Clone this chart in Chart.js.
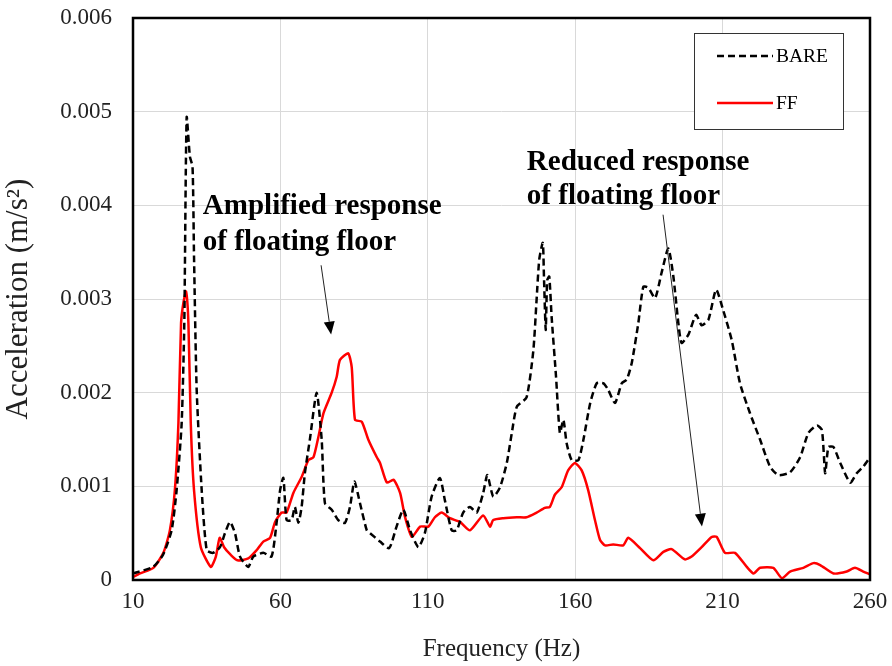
<!DOCTYPE html>
<html>
<head>
<meta charset="utf-8">
<script src="https://cdn.jsdelivr.net/npm/chart.js@4"></script>
<style>
  html, body { margin: 0; padding: 0; background: #fff; }
  #wrap { width: 892px; height: 666px; }
</style>
</head>
<body>
<div id="wrap"><canvas id="accChart" width="892" height="666"></canvas></div>
<script>
// frequency (Hz) / acceleration (m/s2)
const bareFreq = [10, 16.8, 20.2, 23.1, 24.8, 26.5, 27.4, 28.2, 29.3, 30.2, 30.7, 31.6, 33.3, 35.0, 37.2, 39.5, 41.2, 42.9, 44.6, 46.3,
  49.1, 50.8, 54.2, 57.0, 58.7, 59.9, 61.0, 62.1, 63.8, 64.9, 66.1, 67.2, 68.3, 70.0, 72.3, 74.0, 75.1, 77.4, 79.6, 81.9,
  83.6, 85.1, 87.0, 89.3, 90.4, 93.8, 96.9, 99.4, 101.7, 104, 106.8, 109, 111.3, 114.1, 115.8, 118.1, 119.8, 122, 124.3, 126.6,
  128.8, 130.2, 132.2, 134.5, 136.8, 138.5, 140.2, 143.5, 145.8, 146.9, 147.8, 149, 149.4, 150, 150.5, 151.2, 152, 153.5, 154.8, 156,
  157.1, 158.8, 161.1, 162.8, 165.1, 167.3, 169.6, 171.2, 173.5, 175.8, 177.5, 179.2, 181.4, 183.1, 184.8, 187.1, 189.3, 191.6, 193.3, 195,
  196.1, 198.4, 201, 202.9, 205.2, 207.8, 210.2, 213.1, 215.9, 219.3, 222.7, 226.1, 228.9, 232.9, 236.3, 239.1, 242, 243.7, 244.8, 245.9,
  247.6, 249.9, 253.3, 255.5, 257.7, 260];
const bareAcc = [0.00007, 0.00014, 0.00027, 0.00053, 0.00096, 0.00167, 0.00274, 0.00494, 0.00452, 0.00441, 0.00345, 0.00203, 0.00096, 0.00032, 0.00029, 0.00035, 0.0005, 0.00062, 0.0005, 0.00025,
  0.00014, 0.00025, 0.00029, 0.00025, 0.00061, 0.00096, 0.00109, 0.00064, 0.00064, 0.00078, 0.00061, 0.00078, 0.00114, 0.0015, 0.002, 0.0015, 0.00082, 0.00075, 0.00064, 0.00061,
  0.00078, 0.00105, 0.00082, 0.00053, 0.0005, 0.00041, 0.00034, 0.00057, 0.00075, 0.00053, 0.00035, 0.0005, 0.00089, 0.00109, 0.00085, 0.00053, 0.00053, 0.00072, 0.00078, 0.00072,
  0.00093, 0.00112, 0.00089, 0.00099, 0.00125, 0.00157, 0.00185, 0.00195, 0.00245, 0.00299, 0.00342, 0.0036, 0.00324, 0.00267, 0.0032, 0.00324, 0.00281, 0.00217, 0.00157, 0.00171,
  0.00146, 0.00128, 0.00128, 0.0015, 0.00189, 0.0021, 0.0021, 0.00203, 0.00189, 0.0021, 0.00214, 0.00232, 0.00274, 0.00313, 0.00312, 0.00301, 0.00328, 0.00354, 0.00324, 0.00274,
  0.00253, 0.00262, 0.00283, 0.00272, 0.00278, 0.0031, 0.00288, 0.00256, 0.0021, 0.00178, 0.0015, 0.00121, 0.00112, 0.00115, 0.00131, 0.00157, 0.00165, 0.0016, 0.00114, 0.00142,
  0.00142, 0.00125, 0.00104, 0.00114, 0.00121, 0.00131];

const ffFreq = [10, 12.4, 16.9, 20.3, 22.5, 24.2, 25.4, 26.3, 27.1, 28, 28.8, 29.6, 30.7, 33, 36.4, 38.1, 39.4, 40.9, 43.1, 45.4,
  49.1, 52, 54.2, 56.5, 58.2, 60.4, 62.1, 64.4, 67.2, 69.5, 71.2, 72.9, 74.6, 77.4, 79.1, 80.2, 83, 84.2, 85.3, 87.6,
  89.8, 92.7, 93.8, 96.1, 98.4, 100.6, 102.3, 104.6, 107.4, 110.2, 112.4, 114.7, 117.5, 120.9, 124.3, 128.8, 131.1, 132.2, 135.6, 140.2,
  143.5, 146.9, 149.7, 151.4, 153.1, 155.4, 157.6, 159.9, 162.2, 164.4, 166.7, 168.4, 170.1, 172.9, 176.3, 178, 182, 186.5, 189.9, 192.7,
  197.2, 199.5, 202.9, 206.3, 208, 210.8, 214.2, 218.2, 220.5, 222.7, 227.2, 230.1, 232.9, 237.4, 240.8, 243.1, 247.6, 252.1, 254.9, 257.7, 260];
const ffAcc = [0.00003, 0.00007, 0.00013, 0.00029, 0.00053, 0.00096, 0.00167, 0.00274, 0.00296, 0.00308, 0.00274, 0.00167, 0.00096, 0.00035, 0.00014, 0.00025, 0.00045, 0.00035, 0.00027, 0.00021,
  0.00023, 0.00032, 0.00041, 0.00045, 0.00062, 0.00072, 0.00072, 0.00093, 0.0011, 0.00128, 0.00131, 0.00153, 0.00178, 0.002, 0.00217, 0.00235, 0.00242, 0.00227, 0.00171, 0.00169,
  0.0015, 0.00131, 0.00125, 0.00104, 0.00107, 0.00093, 0.00067, 0.00046, 0.00057, 0.00057, 0.00067, 0.00072, 0.00066, 0.00062, 0.00053, 0.00069, 0.00057, 0.00064, 0.00066, 0.00067,
  0.00067, 0.00072, 0.00077, 0.00078, 0.00091, 0.00099, 0.00117, 0.00125, 0.00117, 0.00096, 0.00064, 0.00043, 0.00037, 0.00038, 0.00037, 0.00045, 0.00034, 0.00021, 0.0003, 0.00033,
  0.00022, 0.00025, 0.00035, 0.00046, 0.00046, 0.00029, 0.00029, 0.00014, 0.00007, 0.00013, 0.00013, 0.00002, 0.00009, 0.00013, 0.00018, 0.00016, 0.00007, 0.00009, 0.00013, 0.00009, 0.00006];

const seriesNames = ['BARE', 'FF'];
const xTicks = [10, 60, 110, 160, 210, 260];
const yTicks = [0, 0.001, 0.002, 0.003, 0.004, 0.005, 0.006];

// callouts, anchored in data units
const notes = [
  { lines: ['Amplified response', 'of floating floor'], x: 33.7, y: [0.00399, 0.0036], from: [73.8, 0.00336], to: [77.2, 0.00262] },
  { lines: ['Reduced response', 'of floating floor'], x: 143.6, y: [0.00446, 0.00409], from: [189.8, 0.0039], to: [203, 0.00057] }
];

const serif = '"Liberation Serif", "Times New Roman", serif';

function pairs(xs, ys) {
  return xs.map((x, i) => ({ x: x, y: ys[i] }));
}

const frame = {
  id: 'frame',
  afterDatasetsDraw(chart) {
    const { ctx, chartArea: a } = chart;
    ctx.save();
    ctx.strokeStyle = '#000';
    ctx.lineWidth = 2.5;
    ctx.strokeRect(a.left, a.top, a.right - a.left, a.bottom - a.top);
    ctx.restore();
  }
};

const callouts = {
  id: 'callouts',
  afterDatasetsDraw(chart) {
    const { ctx } = chart;
    const sx = chart.scales.x, sy = chart.scales.y;
    ctx.save();
    ctx.fillStyle = '#000';
    ctx.font = 'bold 29px ' + serif;
    ctx.textBaseline = 'middle';
    notes.forEach(n => {
      n.lines.forEach((t, i) => ctx.fillText(t, sx.getPixelForValue(n.x), sy.getPixelForValue(n.y[i])));
      const x1 = sx.getPixelForValue(n.from[0]), y1 = sy.getPixelForValue(n.from[1]);
      const x2 = sx.getPixelForValue(n.to[0]), y2 = sy.getPixelForValue(n.to[1]);
      const ang = Math.atan2(y2 - y1, x2 - x1);
      const hl = 13, hw = 5.5;
      const bx = x2 - hl * Math.cos(ang), by = y2 - hl * Math.sin(ang);
      ctx.strokeStyle = '#222';
      ctx.lineWidth = 1;
      ctx.beginPath();
      ctx.moveTo(x1, y1);
      ctx.lineTo(bx, by);
      ctx.stroke();
      ctx.beginPath();
      ctx.moveTo(x2, y2);
      ctx.lineTo(bx + hw * Math.sin(ang), by - hw * Math.cos(ang));
      ctx.lineTo(bx - hw * Math.sin(ang), by + hw * Math.cos(ang));
      ctx.closePath();
      ctx.fill();
    });
    ctx.restore();
  }
};

// legend box drawn by hand so it gets its own frame
const legendBox = {
  id: 'legendBox',
  afterDraw(chart) {
    const { ctx } = chart;
    const a = chart.chartArea;
    const bx = a.right - 176, by = a.top + 15, bw = 149, bh = 96;
    ctx.save();
    ctx.fillStyle = '#fff';
    ctx.fillRect(bx, by, bw, bh);
    ctx.strokeStyle = '#333';
    ctx.lineWidth = 1;
    ctx.strokeRect(bx + 0.5, by + 0.5, bw, bh);
    chart.data.datasets.forEach((ds, i) => {
      const ly = by + 23 + i * 47;
      ctx.strokeStyle = ds.borderColor;
      ctx.lineWidth = ds.borderWidth;
      ctx.setLineDash(ds.borderDash || []);
      ctx.beginPath();
      ctx.moveTo(bx + 23, ly);
      ctx.lineTo(bx + 79, ly);
      ctx.stroke();
      ctx.setLineDash([]);
      ctx.fillStyle = '#000';
      ctx.font = '19.5px ' + serif;
      ctx.textBaseline = 'middle';
      ctx.fillText(ds.label, bx + 82, ly + 1);
    });
    ctx.restore();
  }
};

new Chart(document.getElementById('accChart').getContext('2d'), {
  type: 'line',
  data: {
    datasets: [
      {
        label: seriesNames[0],
        data: pairs(bareFreq, bareAcc),
        borderColor: '#000',
        borderWidth: 2.5,
        borderDash: [7, 4],
        pointRadius: 0,
        tension: 0.2,
        fill: false
      },
      {
        label: seriesNames[1],
        data: pairs(ffFreq, ffAcc),
        borderColor: '#ff0000',
        borderWidth: 2.5,
        pointRadius: 0,
        tension: 0.2,
        fill: false
      }
    ]
  },
  options: {
    responsive: false,
    animation: false,
    layout: { padding: { left: 0, right: 22, top: 18, bottom: 2 } },
    plugins: {
      legend: { display: false },
      tooltip: { enabled: false }
    },
    scales: {
      x: {
        type: 'linear',
        min: 10,
        max: 260,
        afterBuildTicks: s => { s.ticks = xTicks.map(v => ({ value: v })); },
        ticks: { color: '#222', font: { family: serif, size: 23 }, padding: 8, maxRotation: 0 },
        grid: { color: '#d9d9d9', lineWidth: 1, drawTicks: false },
        border: { display: false },
        title: { display: true, text: 'Frequency (Hz)', color: '#222', font: { family: serif, size: 25 }, padding: { top: 15, bottom: 0 } },
        afterFit: s => { s.height = 84; s.paddingLeft = 0; s.paddingRight = 0; }
      },
      y: {
        min: 0,
        max: 0.006,
        afterBuildTicks: s => { s.ticks = yTicks.map(v => ({ value: v })); },
        ticks: {
          color: '#222',
          font: { family: serif, size: 23 },
          padding: 21,
          callback: v => v === 0 ? '0' : v.toFixed(3)
        },
        grid: { color: '#d9d9d9', lineWidth: 1, drawTicks: false },
        border: { display: false },
        title: { display: true, text: 'Acceleration (m/s²)', color: '#222', font: { family: serif, size: 31 }, padding: { top: 0, bottom: 4 } },
        afterFit: s => { s.width = 133; s.paddingTop = 0; s.paddingBottom = 0; }
      }
    }
  },
  plugins: [frame, callouts, legendBox]
});
</script>
</body>
</html>
